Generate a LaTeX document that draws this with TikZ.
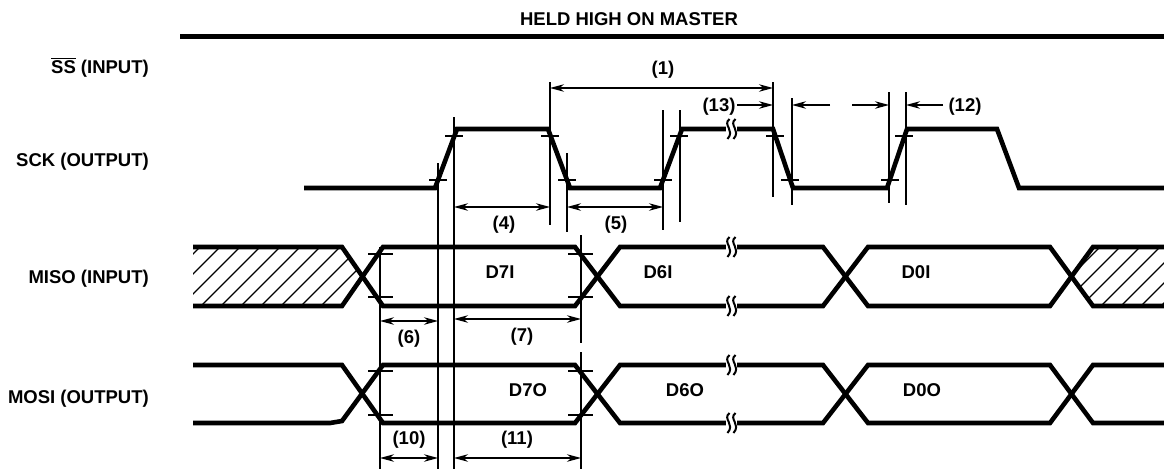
\documentclass[tikz,border=0pt]{standalone}
\usepackage{fontspec}
\setmainfont{Liberation Sans}
\usetikzlibrary{arrows.meta}
\newcommand{\sigbreak}[2]{%
  \fill[white] (#1-5.5,#2-8) rectangle (#1+5.5,#2+8);
  \draw[line width=2pt] (#1-1.5,#2-10) .. controls (#1-9,#2-4) and (#1+4.5,#2+1) .. (#1-3.5,#2+10);
  \draw[line width=2pt] (#1+4.5,#2-10) .. controls (#1-3,#2-4) and (#1+10.5,#2+1) .. (#1+2.5,#2+10);
}
\begin{document}
\begin{tikzpicture}[x=1pt,y=-1pt,
  sig/.style={line width=4.6pt,line join=miter},
  thinl/.style={line width=1.1pt},
  hatch/.style={line width=1.1pt},
  tip/.tip={Stealth[length=14pt,width=7.5pt,inset=4.5pt]},
  dim/.style={line width=1.1pt,tip-tip},
  dimr/.style={line width=1.1pt,-tip},
  lbl/.style={font=\fontsize{18.5}{20}\selectfont\bfseries,inner sep=0pt,anchor=base},
  side/.style={lbl,anchor=base east}]
\useasboundingbox (0,0) rectangle (1164,469);

% ---------- labels on the left ----------
\node[side] (lss) at (149,73) {$\overline{\hbox{SS}}$ (INPUT)};
\node[side] (lsck) at (149,166) {SCK (OUTPUT)};
\node[side] (lmiso) at (149,283) {MISO (INPUT)};
\node[side] (lmosi) at (149,403) {MOSI (OUTPUT)};

% ---------- SS held high ----------
\node[lbl] (held) at (629,25) {HELD HIGH ON MASTER};
\draw[line width=5pt] (180,36) -- (1164,36);

% ---------- hatching (behind signal lines) ----------
\begin{scope}
  \clip (193,247) -- (342,247) -- (362.5,276.5) -- (342,306) -- (193,306) -- cycle;
  \foreach \a in {121,141,...,381} \draw[hatch] (\a,306) -- (\a+59,247);
\end{scope}
\begin{scope}
  \clip (1071.5,276.5) -- (1093,247) -- (1164,247) -- (1164,306) -- (1093,306) -- cycle;
  \foreach \a in {1001,1021,...,1181} \draw[hatch] (\a,306) -- (\a+59,247);
\end{scope}

% ---------- SCK ----------
\draw[sig] (304,188) -- (435,188) -- (457,129) -- (548,129) -- (570,188) -- (660,188)
  -- (682,129) -- (773,129) -- (793,188) -- (887,188) -- (907,129) -- (997,129)
  -- (1019,188) -- (1164,188);
\sigbreak{731}{129}

% ---------- MISO ----------
\draw[sig] (193,247) -- (342,247) -- (383,306) -- (575,306) -- (620,247) -- (823,247)
  -- (868,306) -- (1050,306) -- (1093,247) -- (1164,247);
\draw[sig] (193,306) -- (342,306) -- (383,247) -- (575,247) -- (620,306) -- (823,306)
  -- (868,247) -- (1050,247) -- (1093,306) -- (1164,306);
\sigbreak{731}{247}
\sigbreak{731}{306}

% ---------- MOSI ----------
\draw[sig] (193,365) -- (342,365) -- (383,423) -- (575,423) -- (620,365) -- (823,365)
  -- (868,423) -- (1050,423) -- (1093,365) -- (1164,365);
\draw[sig] (193,423) -- (330,423) -- (342,421) -- (383,365) -- (575,365) -- (620,423) -- (823,423)
  -- (868,365) -- (1050,365) -- (1093,423) -- (1164,423);
\sigbreak{731}{365}
\sigbreak{731}{423}

% ---------- data labels ----------
\node[lbl] (d7i) at (500,278) {D7I};
\node[lbl] (d6i) at (658,278) {D6I};
\node[lbl] (d0i) at (916,278) {D0I};
\node[lbl] (d7o) at (528,396) {D7O};
\node[lbl] (d6o) at (685,396) {D6O};
\node[lbl] (d0o) at (922,396) {D0O};

% ---------- SCK threshold ticks ----------
\foreach \xa/\xb in {429/447, 558/576, 654/672, 781/799, 881/899}
  \draw[thinl] (\xa,180) -- (\xb,180);
\foreach \xa/\xb in {445/463, 541/559, 670/688, 766/784, 895/913}
  \draw[thinl] (\xa,136) -- (\xb,136);

% ---------- data threshold ticks ----------
\foreach \y in {254,297,371,415} {
  \draw[thinl] (368,\y) -- (393,\y);
  \draw[thinl] (568,\y) -- (593,\y);
}

% ---------- vertical reference lines ----------
\coordinate (v1t) at (438,163);  \coordinate (v1b) at (438,469);
\coordinate (v2t) at (454,117);  \coordinate (v2b) at (454,469);
\coordinate (v3t) at (550,82);   \coordinate (v3b) at (550,225);
\coordinate (v4t) at (567,153);  \coordinate (v4b) at (567,232);
\coordinate (v5t) at (663,110);  \coordinate (v5b) at (663,230);
\coordinate (v6t) at (680,110);  \coordinate (v6b) at (680,222);
\coordinate (v7t) at (773,82);   \coordinate (v7b) at (773,197);
\coordinate (v8t) at (792,98);   \coordinate (v8b) at (792,205);
\coordinate (v9t) at (889,92);   \coordinate (v9b) at (889,203);
\coordinate (v10t) at (906,92);  \coordinate (v10b) at (906,205);
\coordinate (v11t) at (380,247); \coordinate (v11b) at (380,469);
\coordinate (v12t) at (581,235); \coordinate (v12m) at (581,343);
\coordinate (v12n) at (581,352); \coordinate (v12b) at (581,469);
\foreach \n in {1,...,11} \draw[thinl] (v\n t) -- (v\n b);
\draw[thinl] (v12t) -- (v12m);
\draw[thinl] (v12n) -- (v12b);

% ---------- timing arrows ----------
\coordinate (a1l) at (550,88);  \coordinate (a1r) at (773,88);
\draw[dim] (a1l) -- (a1r);
\node[lbl] (t1) at (663,74) {(1)};

\coordinate (a13l) at (737,105); \coordinate (a13r) at (773,105);
\draw[dimr] (a13l) -- (a13r);
\node[lbl] (t13) at (719,111) {(13)};

\coordinate (aul) at (830,105); \coordinate (aule) at (792,105);
\draw[dimr] (aul) -- (aule);
\coordinate (aur) at (852,105); \coordinate (aure) at (889,105);
\draw[dimr] (aur) -- (aure);

\coordinate (a12s) at (943,105); \coordinate (a12e) at (906,105);
\draw[dimr] (a12s) -- (a12e);
\node[lbl] (t12) at (965,111) {(12)};

\coordinate (a4l) at (454,207); \coordinate (a4r) at (550,207);
\draw[dim] (a4l) -- (a4r);
\node[lbl] (t4) at (504,229) {(4)};

\coordinate (a5l) at (567,207); \coordinate (a5r) at (663,207);
\draw[dim] (a5l) -- (a5r);
\node[lbl] (t5) at (616,229) {(5)};

\coordinate (a6l) at (380,321); \coordinate (a6r) at (438,321);
\draw[dim] (a6l) -- (a6r);
\node[lbl] (t6) at (409,343) {(6)};

\coordinate (a7l) at (454,319); \coordinate (a7r) at (581,319);
\draw[dim] (a7l) -- (a7r);
\node[lbl] (t7) at (522,341) {(7)};

\coordinate (a10l) at (380,458); \coordinate (a10r) at (438,458);
\draw[dim] (a10l) -- (a10r);
\node[lbl] (t10) at (409,444) {(10)};

\coordinate (a11l) at (454,458); \coordinate (a11r) at (581,458);
\draw[dim] (a11l) -- (a11r);
\node[lbl] (t11) at (517,444) {(11)};
\end{tikzpicture}
\end{document}
